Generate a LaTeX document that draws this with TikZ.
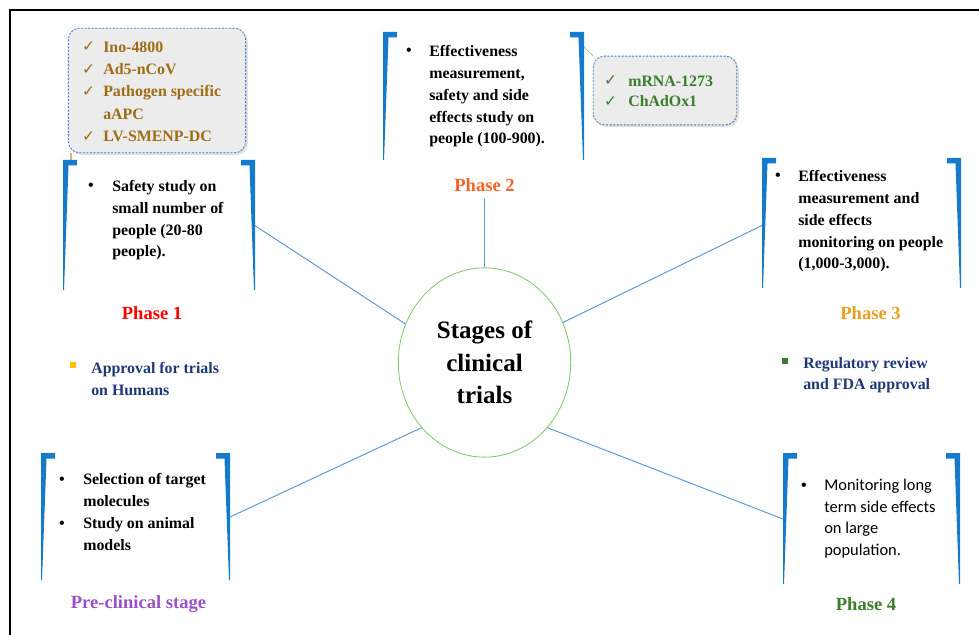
\documentclass[tikz,border=0pt]{standalone}
\usepackage{fontspec}
\setmainfont{Liberation Serif}
\newfontfamily\calibri{Carlito}
\newfontfamily\symboles{DejaVu Sans}
\usetikzlibrary{shapes.geometric,shadows}

\definecolor{bleucrochet}{RGB}{20,122,204}
\definecolor{bleulien}{RGB}{91,155,213}
\definecolor{vertcercle}{RGB}{130,200,110}
\definecolor{rougeph}{RGB}{255,0,0}
\definecolor{orangeph}{RGB}{242,101,34}
\definecolor{orph}{RGB}{232,160,30}
\definecolor{violetph}{RGB}{155,80,200}
\definecolor{vertph}{RGB}{60,125,45}
\definecolor{bleunuit}{RGB}{31,56,120}
\definecolor{orvaccin}{RGB}{158,108,20}
\definecolor{grisfond}{RGB}{236,236,236}
\definecolor{bordpointille}{RGB}{70,125,195}
\definecolor{jaunepuce}{RGB}{255,192,0}
\definecolor{peche}{RGB}{245,170,110}
\definecolor{vertclair}{RGB}{140,205,120}

% crochets bleus : gauche, droite, haut, bas
\newcommand{\crochets}[4]{%
  \fill[bleucrochet] (#1,#3) -- ++(14,0) -- ++(0,5.5) -- ++(-8.5,0) -- (#1+1,#4) -- (#1,#4) -- cycle;
  \fill[bleucrochet] (#2,#3) -- ++(-14,0) -- ++(0,5.5) -- ++(8.5,0) -- (#2-1,#4) -- (#2,#4) -- cycle;}

\begin{document}
\begin{tikzpicture}  % ------ Etapes des essais cliniques --------
      [x=0.025cm, y=-0.025cm,
       texte/.style={anchor=base west, inner sep=0, align=left, font=\bfseries\fontsize{11.3}{15.6}\selectfont},
       puce/.style={anchor=base, inner sep=0, font=\bfseries\fontsize{11.3}{15.6}\selectfont},
       coche/.style={anchor=base, inner sep=0, font=\symboles\fontsize{11}{12}\selectfont},
       phase/.style={anchor=base, inner sep=0, font=\bfseries\fontsize{13.2}{15}\selectfont},
       lien/.style={bleulien, line width=0.7pt},
       boite/.style={draw=bordpointille, dash pattern=on 1.5pt off 1pt, fill=grisfond, rounded corners=8pt,
                     line width=0.6pt, inner sep=0, drop shadow={opacity=0.25, shadow xshift=1.5pt, shadow yshift=-1.5pt}}]

    \useasboundingbox (0,0) rectangle (979,635);
    \draw[line width=2.1pt] (10,10) rectangle (995,650);

    \node[ellipse, draw=vertcercle, line width=0.6pt, minimum width=122.6pt, minimum height=134.6pt, inner sep=0,
          align=center, font=\bfseries\fontsize{17.8}{23}\selectfont] (stages) at (484.5,362.5) {Stages of\\clinical\\trials};

    \coordinate (P1d) at (254,225);
    \coordinate (P1h) at (71,160);
    \coordinate (P2b) at (484.5,199);
    \coordinate (P2d) at (583,46);
    \coordinate (P3g) at (763,225);
    \coordinate (PCd) at (230,517);
    \coordinate (P4g) at (783,519);

    \draw[lien] (stages.154) -- (P1d) ;
    \draw[lien] (stages.north) -- (P2b) ;
    \draw[lien] (stages.27) -- (P3g) ;
    \draw[lien] (stages.226) -- (PCd) ;
    \draw[lien] (stages.314) -- (P4g) ;

    % vaccins candidats (les textes sont places par leur derniere ligne)
    \node[boite, minimum width=126.1pt, minimum height=88.6pt] (vaccins1) at (157,90.5) {};
    \node[boite, minimum width=102pt, minimum height=48.9pt] (vaccins2) at (665,90.5) {};
    \draw[peche, line width=0.8pt] (vaccins1.south -| P1h) -- (P1h) ;
    \draw[vertclair, line width=0.5pt] (P2d) -- (vaccins2.north west) ;

    \node[coche, text=orvaccin] (c1) at (88.5,52) {✓};
    \node[coche, text=orvaccin] (c2) at (88.5,74.5) {✓};
    \node[coche, text=orvaccin] (c3) at (88.5,97) {✓};
    \node[coche, text=orvaccin] (c4) at (88.5,141.5) {✓};
    \node[texte, text=orvaccin, font=\bfseries\fontsize{11.3}{15.9}\selectfont] (v1) at (103,141.5)
         {Ino-4800\\Ad5-nCoV\\Pathogen specific\\aAPC\\LV-SMENP-DC};
    \node[coche, text=vertph] (c5) at (610.5,86) {✓};
    \node[coche, text=vertph] (c6) at (610.5,107) {✓};
    \node[texte, text=vertph, font=\bfseries\fontsize{11.3}{14.9}\selectfont] (v2) at (628,107) {mRNA-1273\\ChAdOx1};

    % crochets
    \crochets{63}{255}{160}{290}
    \crochets{383}{584}{32}{160}
    \crochets{762}{961}{158}{288}
    \crochets{41}{230}{453}{580}
    \crochets{783}{960}{453}{584}

    % phase 1
    \node[puce] (b1) at (91,191) {•};
    \node[texte] (t1) at (112,257) {Safety study on\\small number of\\people (20-80\\people).};
    \node[phase, text=rougeph] (ph1) at (152,320) {Phase 1};
    \fill[jaunepuce] (70,362) rectangle (76,368);
    \node[texte, text=bleunuit] (ap) at (91,395) {Approval for trials\\on Humans};

    % phase 2
    \node[puce] (b2) at (409,56) {•};
    \node[texte] (t2) at (429,144) {Effectiveness\\measurement,\\safety and side\\effects study on\\people (100-900).};
    \node[phase, text=orangeph] (ph2) at (484.5,192) {Phase 2};

    % phase 3
    \node[puce] (b3) at (778,181) {•};
    \node[texte] (t3) at (798,269) {Effectiveness\\measurement and\\side effects\\monitoring on people\\(1,000-3,000).};
    \node[phase, text=orph] (ph3) at (870.5,320) {Phase 3};
    \fill[vertph] (782,358) rectangle (788,364);
    \node[texte, text=bleunuit] (rv) at (803,390) {Regulatory review\\and FDA approval};

    % pre-clinique
    \node[puce] (b4) at (62,484) {•};
    \node[texte] (t4) at (83,506) {Selection of target\\molecules};
    \node[puce] (b5) at (62,528) {•};
    \node[texte] (t5) at (83,550) {Study on animal\\models};
    \node[phase, text=violetph] (ph0) at (138.5,608) {Pre-clinical stage};

    % phase 4
    \node[puce] (b6) at (804,490.5) {•};
    \node[texte, font=\calibri\fontsize{11.7}{15.2}\selectfont] (t6) at (824,555) {Monitoring long\\term side effects\\on large\\population.};
    \node[phase, text=vertph] (ph4) at (866,610) {Phase 4};
\end{tikzpicture}
\end{document}
